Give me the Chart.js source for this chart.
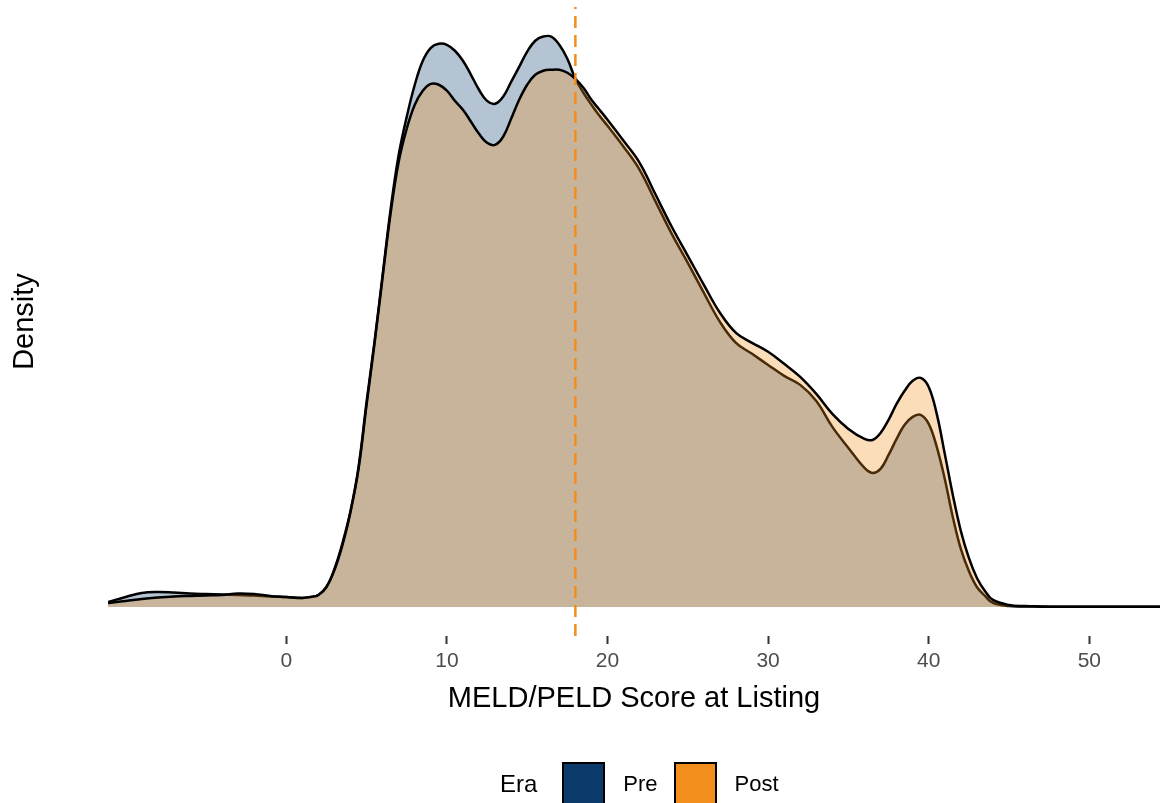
<!DOCTYPE html>
<html>
<head>
<meta charset="utf-8">
<script src="https://cdn.jsdelivr.net/npm/chart.js@4.4.1/dist/chart.umd.min.js"></script>
<style>
  body { margin: 0; background: #fff; font-family: "Liberation Sans", Arial, sans-serif; }
  #wrap { position: relative; width: 1160px; height: 803px; overflow: hidden; }
  #legend { position: absolute; left: 500px; top: 762px; display: flex; align-items: center; }
  #legend .title { font-size: 24px; color: #000; margin-right: 25px; }
  #legend .box { width: 39px; height: 39px; border: 2px solid #000; }
  #legend .lab { font-size: 22px; color: #000; margin: 0 16px 0 18px; }
</style>
</head>
<body>
<div id="wrap">
  <canvas id="densityChart" width="1160" height="803"></canvas>
  <div id="legend"></div>
</div>
<script>
// MELD/PELD score grid and kernel density by era
const scoreGrid = [-11.1, -10, -9, -8, -7, -6, -5, -4, -3, -2, -1, 0, 1, 1.5, 2, 2.5, 3, 3.5, 4, 4.5,
  5, 5.5, 6, 6.5, 7, 7.5, 8, 8.5, 9, 9.5, 10, 10.5, 11, 11.5, 12, 12.5, 13, 13.5, 14, 14.5,
  15, 15.5, 16, 16.5, 17, 17.5, 18, 18.5, 19, 19.5, 20, 21, 22, 23, 24, 25, 26, 27, 28, 29,
  30, 31, 32, 33, 34, 35, 36, 36.5, 37, 37.5, 38, 38.5, 39, 39.5, 40, 40.5, 41, 41.5, 42, 42.5,
  43, 43.5, 44, 45, 46, 47, 48, 50, 52, 54.4];

const preDensity = [0.00037, 0.00074, 0.00104, 0.00111, 0.00107, 0.00100, 0.00096, 0.00093, 0.00089, 0.00085,
  0.00078, 0.00074, 0.00067, 0.00074, 0.00089, 0.00148, 0.00282, 0.00474, 0.00711, 0.01037,
  0.01519, 0.01971, 0.02460, 0.02949, 0.03349, 0.03631, 0.03868, 0.04046, 0.04142, 0.04172,
  0.04164, 0.04120, 0.04046, 0.03942, 0.03831, 0.03749, 0.03727, 0.03779, 0.03890, 0.04001,
  0.04113, 0.04194, 0.04225, 0.04225, 0.04164, 0.04061, 0.03912, 0.03809, 0.03720, 0.03638,
  0.03564, 0.03409, 0.03238, 0.03001, 0.02764, 0.02549, 0.02327, 0.02112, 0.01956, 0.01875,
  0.01793, 0.01712, 0.01645, 0.01526, 0.01334, 0.01178, 0.01030, 0.00993, 0.01023, 0.01126,
  0.01245, 0.01349, 0.01408, 0.01423, 0.01356, 0.01186, 0.00948, 0.00667, 0.00430, 0.00267,
  0.00148, 0.00082, 0.00030, 0.00007, 0.00004, 0.00002, 0.00001, 0.00001, 0.00001, 0.00001];

const postDensity = [0.00030, 0.00044, 0.00059, 0.00070, 0.00078, 0.00082, 0.00085, 0.00089, 0.00100, 0.00096,
  0.00082, 0.00074, 0.00067, 0.00074, 0.00089, 0.00148, 0.00274, 0.00459, 0.00704, 0.01023,
  0.01497, 0.01956, 0.02445, 0.02920, 0.03297, 0.03542, 0.03720, 0.03824, 0.03875, 0.03868,
  0.03824, 0.03749, 0.03683, 0.03594, 0.03505, 0.03438, 0.03423, 0.03483, 0.03616, 0.03757,
  0.03868, 0.03942, 0.03972, 0.03979, 0.03979, 0.03957, 0.03912, 0.03846, 0.03757, 0.03683,
  0.03609, 0.03453, 0.03290, 0.03053, 0.02816, 0.02601, 0.02386, 0.02179, 0.02030, 0.01956,
  0.01890, 0.01801, 0.01704, 0.01578, 0.01430, 0.01319, 0.01245, 0.01237, 0.01289, 0.01386,
  0.01504, 0.01601, 0.01675, 0.01697, 0.01630, 0.01430, 0.01134, 0.00830, 0.00563, 0.00363,
  0.00215, 0.00119, 0.00052, 0.00015, 0.00007, 0.00004, 0.00002, 0.00001, 0.00001, 0.00001];

const eras = ['Pre', 'Post'];
const eraColors = ['#0B3B6B', '#F28E1C'];
const medianScore = [18];
const xTicks = [0, 10, 20, 30, 40, 50];

const xMin = -11.1, xMax = 54.4;
const yMin = -0.00215, yMax = 0.04444;

const toPoints = vals => scoreGrid.map((x, i) => ({x: x, y: vals[i]}));

Chart.defaults.font.family = '"Liberation Sans", Arial, sans-serif';

const ctx = document.getElementById('densityChart').getContext('2d');
new Chart(ctx, {
  type: 'line',
  data: {
    datasets: [
      {
        label: eras[0],
        data: toPoints(preDensity),
        borderColor: '#000000',
        borderWidth: 2.5,
        backgroundColor: 'rgba(11, 59, 107, 0.3)',
        fill: 'origin',
        pointRadius: 0,
        tension: 0.4,
        order: 2
      },
      {
        label: eras[1],
        data: toPoints(postDensity),
        borderColor: '#000000',
        borderWidth: 2.5,
        backgroundColor: 'rgba(242, 142, 28, 0.3)',
        fill: 'origin',
        pointRadius: 0,
        tension: 0.4,
        order: 1
      },
      {
        label: 'median',
        data: [{x: medianScore[0], y: yMin}, {x: medianScore[0], y: yMax}],
        borderColor: eraColors[1],
        borderWidth: 2.5,
        borderDash: [12, 7],
        pointRadius: 0,
        fill: false,
        order: 0
      }
    ]
  },
  options: {
    responsive: false,
    animation: false,
    events: [],
    layout: { padding: { top: 7, bottom: 87, left: 0, right: 0 } },
    plugins: {
      legend: { display: false },
      tooltip: { enabled: false }
    },
    scales: {
      x: {
        type: 'linear',
        min: xMin,
        max: xMax,
        afterBuildTicks: scale => { scale.ticks = xTicks.map(v => ({value: v})); },
        afterFit: scale => { scale.height = 80; },
        border: { display: false },
        grid: { drawOnChartArea: false, tickLength: 8, tickWidth: 2, tickColor: '#333333' },
        ticks: { color: '#4D4D4D', font: { size: 21 }, padding: 5, maxRotation: 0 },
        title: { display: true, text: 'MELD/PELD Score at Listing', color: '#000000', font: { size: 29 }, padding: 0 }
      },
      y: {
        min: yMin,
        max: yMax,
        afterFit: scale => { scale.width = 108; },
        border: { display: false },
        grid: { display: false },
        ticks: { display: false },
        title: { display: true, text: 'Density', color: '#000000', font: { size: 29 }, padding: { top: 8, bottom: 0 } }
      }
    }
  }
});

// ggplot-style legend: title to the left, solid keys
const legend = document.getElementById('legend');
const t = document.createElement('span');
t.className = 'title';
t.textContent = 'Era';
legend.appendChild(t);
eras.forEach((name, i) => {
  const b = document.createElement('span');
  b.className = 'box';
  b.style.background = eraColors[i];
  legend.appendChild(b);
  const l = document.createElement('span');
  l.className = 'lab';
  l.textContent = name;
  legend.appendChild(l);
});
</script>
</body>
</html>
